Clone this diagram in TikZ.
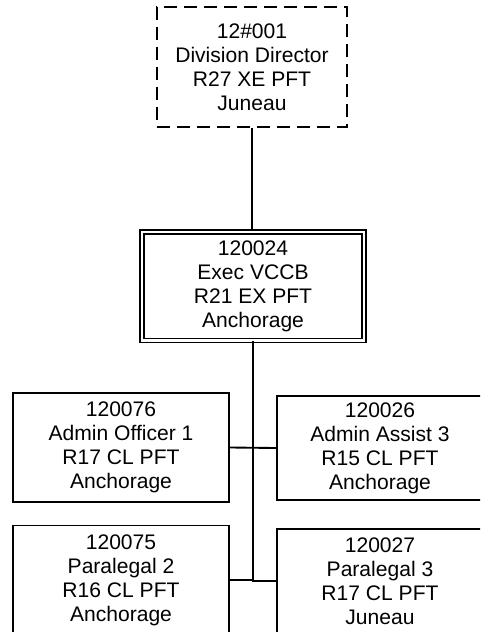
\documentclass[tikz,border=0pt]{standalone}
\usepackage{fontspec}
\setmainfont{Liberation Sans}
\begin{document}
\begin{tikzpicture}[x=0.75pt,y=-0.75pt,
  every node/.style={align=center,inner sep=0pt,font=\fontsize{15.8}{18}\selectfont},
  posbox/.style={draw,line width=1.4pt,minimum width=#1},
  wide/.style={posbox=162pt,minimum height=81.75pt},
  narrow/.style={posbox=154.5pt,minimum height=78pt},
  conn/.style={line width=1.4pt},
  trunk/.style={line width=1.7pt}]
\useasboundingbox (0,0) rectangle (480,632);
\clip (0,0) rectangle (480,632);
\node[draw,line width=1.4pt,dash pattern=on 10pt off 5pt,minimum width=142.5pt,minimum height=90pt] (top) at (252,67) {12\#001\\Division Director\\R27 XE PFT\\Juneau};
\node[draw,double,line width=1pt,double distance=1.8pt,minimum width=166.5pt,minimum height=81.4pt] (dbl) at (253,286.25) {120024\\Exec VCCB\\R21 EX PFT\\Anchorage};
\node[wide] (r1l) at (121,447.5) {120076\\Admin Officer 1\\R17 CL PFT\\Anchorage};
\node[narrow] (r1r) at (380,448) {120026\\Admin Assist 3\\R15 CL PFT\\Anchorage};
\node[wide] (r2l) at (121,580) {120075\\Paralegal 2\\R16 CL PFT\\Anchorage};
\node[narrow] (r2r) at (380,581) {120027\\Paralegal 3\\R17 CL PFT\\Juneau};
\draw[conn] (top.south) -- (top.south |- dbl.north);
\draw[trunk] (dbl.south) |- (r2r.west);
\draw[conn] (r1l.east) -- (r1r.west);
\draw[conn] (r2l.east) -- (r2l.east -| dbl.south);
\end{tikzpicture}
\end{document}
